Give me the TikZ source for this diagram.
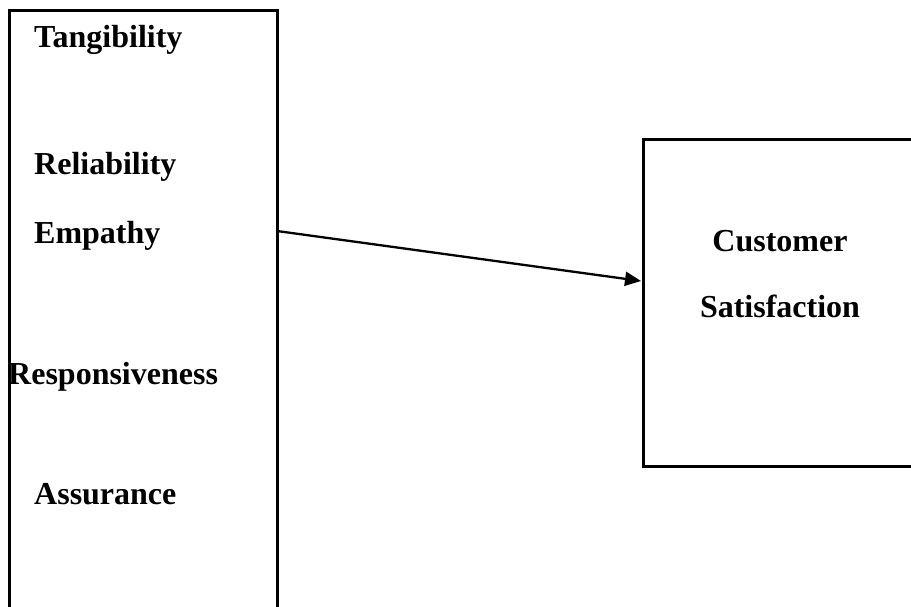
\documentclass[tikz,border=0pt]{standalone}
\usepackage{fontspec}
\setmainfont{Liberation Serif}
\usetikzlibrary{arrows.meta}
\begin{document}
\begin{tikzpicture}[x=1pt,y=-1pt,
  lbl/.style={anchor=base west,inner sep=0pt,font=\fontsize{32}{36}\selectfont\bfseries},
  clbl/.style={anchor=base,inner sep=0pt,font=\fontsize{32}{36}\selectfont\bfseries},
  boxline/.style={line width=3pt,line join=miter},
  conn/.style={line width=2.3pt,-{Triangle[length=16pt,width=14pt]}}]
\useasboundingbox (0,0) rectangle (911,606);
\begin{scope}
\clip (0,0) rectangle (911,606);
\draw[boxline] (9,620) -- (9,10.5) -- (277,10.5) -- (277,620);
\draw[boxline] (925,139.5) -- (643,139.5) -- (643,466) -- (925,466);
\end{scope}
\node[lbl] (tang) at (34,47) {Tangibility};
\node[lbl] (reli) at (34,174) {Reliability};
\node[lbl] (empa) at (34,243) {Empathy};
\node[lbl] (resp) at (8,384) {Responsiveness};
\node[lbl] (assu) at (34,504) {Assurance};
\node[clbl] (cust) at (780,251) {Customer};
\node[clbl] (sati) at (780,317) {Satisfaction};
\coordinate (src) at (277,231);
\coordinate (dst) at (641,281);
\draw[conn] (src) -- (dst);
\end{tikzpicture}
\end{document}
